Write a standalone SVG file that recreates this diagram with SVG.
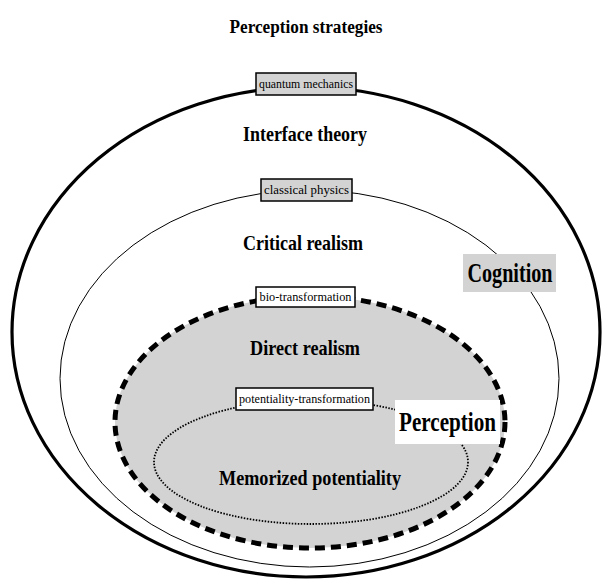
<svg xmlns="http://www.w3.org/2000/svg" width="602" height="580" viewBox="0 0 602 580" font-family="'Liberation Serif', 'Times New Roman', serif">
<style>
text{font-family:'Liberation Serif','Times New Roman',serif;fill:#000}
.big{font-weight:bold;font-size:21px;text-anchor:middle}
.small{font-size:12.5px;text-anchor:middle}
.huge{font-weight:bold;font-size:27px;text-anchor:middle}
.gbox{fill:#d3d3d3;stroke:#000;stroke-width:1.5}
.wbox{fill:#fff;stroke:#000;stroke-width:1.5}
</style>
<rect width="602" height="580" fill="#fff"/>
<g id="title"><text class="big" x="306" y="33" style="font-size:18px" textLength="153" lengthAdjust="spacingAndGlyphs">Perception strategies</text></g>
<g id="edges">
<ellipse id="e-outer" cx="306" cy="332" rx="294" ry="245" fill="none" stroke="#000" stroke-width="3.2"/>
<ellipse id="e-middle" cx="309.5" cy="378.5" rx="249.5" ry="188.5" fill="none" stroke="#000" stroke-width="1"/>
<ellipse id="e-dashed" cx="310" cy="422" rx="195" ry="126" fill="#d3d3d3" stroke="#000" stroke-width="5" stroke-dasharray="10 6"/>
<ellipse id="e-dotted" cx="311" cy="462" rx="157" ry="62" fill="none" stroke="#000" stroke-width="1.8" stroke-dasharray="1.5 1.5"/>
</g>
<g id="interface">
<rect class="gbox" x="256" y="73" width="100" height="22"/>
<text class="small" x="306" y="88" textLength="94" lengthAdjust="spacingAndGlyphs">quantum mechanics</text>
<text class="big" x="305" y="141" textLength="124" lengthAdjust="spacingAndGlyphs">Interface theory</text>
</g>
<g id="critical">
<rect class="gbox" x="261" y="179" width="91" height="22"/>
<text class="small" x="306.5" y="194" textLength="85" lengthAdjust="spacingAndGlyphs">classical physics</text>
<text class="big" x="303" y="250" textLength="120" lengthAdjust="spacingAndGlyphs">Critical realism</text>
</g>
<g id="cognition">
<rect x="463" y="254" width="93" height="38" fill="#d3d3d3"/>
<text class="huge" x="510" y="282" textLength="85" lengthAdjust="spacingAndGlyphs">Cognition</text>
</g>
<g id="direct">
<rect class="wbox" x="256" y="287" width="99" height="20"/>
<text class="small" x="305.5" y="301" textLength="92" lengthAdjust="spacingAndGlyphs">bio-transformation</text>
<text class="big" x="305" y="355" textLength="110" lengthAdjust="spacingAndGlyphs">Direct realism</text>
</g>
<g id="memorized">
<rect class="wbox" x="236" y="388" width="137" height="22"/>
<text class="small" x="304.5" y="403" textLength="131" lengthAdjust="spacingAndGlyphs">potentiality-transformation</text>
<text class="big" x="310" y="485" textLength="182" lengthAdjust="spacingAndGlyphs">Memorized potentiality</text>
</g>
<g id="perception">
<rect x="395" y="400" width="105" height="44" fill="#fff"/>
<text class="huge" x="447.5" y="431" textLength="97" lengthAdjust="spacingAndGlyphs">Perception</text>
</g>
</svg>
